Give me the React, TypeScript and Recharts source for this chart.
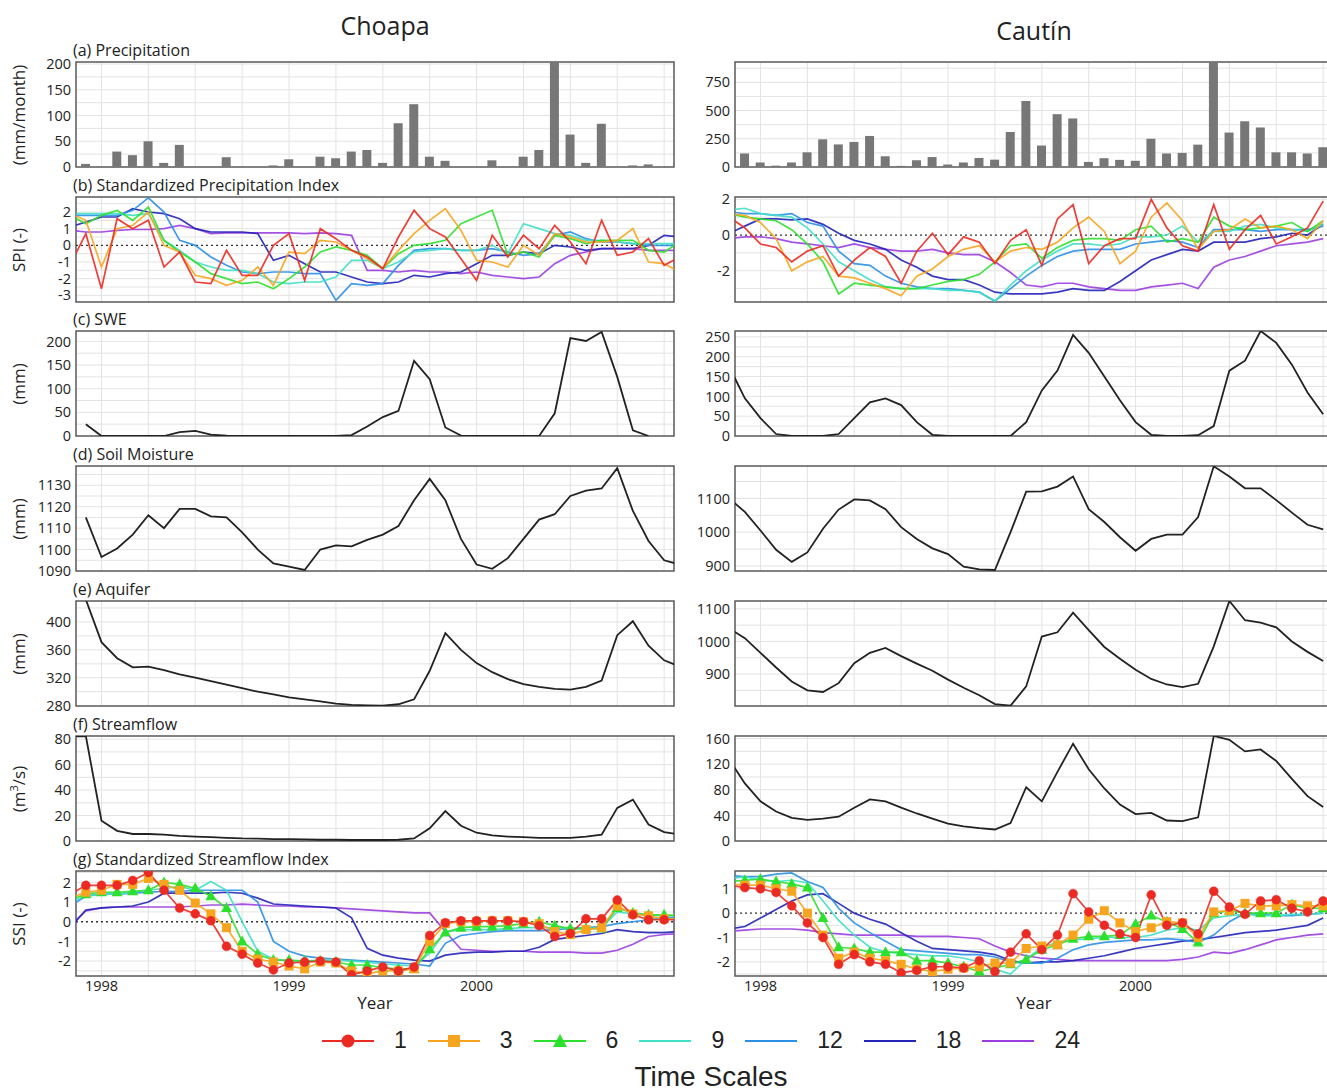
import React from "react";
import { ComposedChart, Bar, Line, XAxis, YAxis, CartesianGrid, ReferenceLine, ReferenceArea } from "recharts";

const FONT = '"Open Sans", "DejaVu Sans", sans-serif';

// month index, 0 = Jan 1998
const monthsChoapa = [-2, -1, 0, 1, 2, 3, 4, 5, 6, 7, 8, 9, 10, 11, 12, 13, 14, 15, 16, 17, 18, 19, 20, 21, 22, 23, 24, 25, 26, 27, 28, 29, 30, 31, 32, 33, 34, 35, 36, 37];
const monthsCautin = [-2, -1, 0, 1, 2, 3, 4, 5, 6, 7, 8, 9, 10, 11, 12, 13, 14, 15, 16, 17, 18, 19, 20, 21, 22, 23, 24, 25, 26, 27, 28, 29, 30, 31, 32, 33, 34, 35, 36];
const yearTicks = [0, 12, 24];
const yearLabels = ["1998", "1999", "2000"];

// ---- Choapa ----
const precipChoapa = [null, 6, 0, 30, 23, 50, 8, 43, 0, 0, 19, 0, 0, 3, 15, 0, 20, 17, 30, 33, 8, 85, 122, 20, 12, 0, 0, 13, 0, 20, 33, 204, 63, 8, 84, 0, 3, 5, 0, null];
const spi1Choapa = [-1.15, 0.7, -2.6, 1.6, 1.0, 1.5, -1.3, -0.4, -2.2, -2.3, -0.3, -1.8, -1.8, 0.0, 0.7, -2.1, 1.0, 0.4, -0.3, -0.7, -1.4, 0.5, 2.1, 1.0, 0.5, -0.8, -2.1, 0.6, -0.7, 0.6, -0.2, 1.2, 0.2, -1.1, 1.5, -0.6, -0.4, 0.4, -1.2, -0.7];
const spi3Choapa = [1.9, 1.5, -1.3, 1.0, 1.2, 2.0, 0.0, -0.4, -1.8, -2.0, -2.4, -2.1, -1.3, -2.4, -0.4, -0.5, 0.3, 0.2, -0.3, -0.8, -1.4, -0.3, 0.7, 1.5, 2.2, 0.9, -0.9, -1.0, -1.3, 0.0, -0.6, 0.7, 0.5, 0.2, 0.2, 0.3, 1.0, -1.0, -1.1, -1.6];
const spi6Choapa = [1.8, 1.3, 1.8, 2.1, 1.5, 2.3, 0.3, -0.4, -1.0, -1.7, -2.0, -2.3, -2.2, -2.6, -2.0, -1.3, -0.4, -0.1, -0.3, -0.6, -1.4, -0.5, 0.0, 0.1, 0.3, 1.3, 1.7, 2.1, -0.6, -0.4, -0.7, 0.6, 0.4, 0.1, 0.3, 0.3, 0.3, -0.3, -0.4, 0.2];
const spi9Choapa = [1.9, 1.9, 1.9, 1.9, 1.8, 1.9, 0.3, -0.3, -1.0, -1.3, -1.5, -1.5, -1.7, -2.2, -2.3, -2.2, -2.2, -1.9, -0.9, -0.9, -1.4, -1.0, -0.4, -0.3, -0.2, -0.3, -0.3, 0.0, -0.5, 1.3, 1.0, 0.7, 0.6, 0.3, 0.3, 0.2, 0.1, 0.1, 0.1, 0.1];
const spi12Choapa = [1.8, 1.8, 1.8, 1.8, 2.1, 2.85, 2.0, 0.3, 0.0, -0.7, -1.2, -1.6, -1.7, -1.6, -1.6, -1.7, -1.7, -3.3, -2.3, -2.4, -2.3, -1.2, -0.3, -0.2, -0.2, -0.3, -0.3, -0.2, -0.4, -0.6, -0.5, 0.6, 0.8, 0.4, 0.2, 0.2, 0.1, 0.0, 0.0, 0.0];
const spi18Choapa = [1.1, 1.4, 1.7, 1.7, 2.2, 2.0, 1.9, 1.6, 1.0, 0.8, 0.8, 0.8, 0.7, -0.9, -0.6, -1.1, -1.6, -1.6, -1.9, -2.2, -2.3, -2.2, -1.8, -1.9, -1.7, -1.6, -1.1, -0.6, -0.6, -0.4, -0.5, 0.0, -0.1, -0.3, -0.2, -0.2, -0.2, 0.0, 0.6, 0.5];
const spi24Choapa = [0.9, 0.8, 0.8, 0.9, 0.95, 0.95, 1.0, 1.2, 1.0, 0.7, 0.75, 0.75, 0.75, 0.75, 0.75, 0.7, 0.75, 0.7, 0.6, -1.5, -1.5, -1.6, -1.5, -1.6, -1.6, -1.7, -1.6, -1.8, -1.9, -2.0, -1.9, -1.1, -0.6, -0.4, -0.2, -0.2, -0.2, -0.3, -0.3, -0.3];
const sweChoapa = [null, 25, 0, 0, 0, 0, 0, 8, 11, 3, 0.5, 0, 0, 0, 0, 0, 0, 0, 2, 20, 40, 53, 159, 120, 18, 1, 0, 0, 0, 0, 0, 48, 207, 201, 220, 125, 12, 0, null, null];
const soilChoapa = [null, 1115, 1096.5, 1100.5, 1107, 1116, 1110, 1119, 1119, 1115.5, 1115, 1108, 1100, 1093.5, 1092, 1090.5, 1100, 1102, 1101.5, 1104.5, 1107, 1111, 1123, 1133, 1123, 1105, 1093, 1091, 1096, 1105, 1114, 1116.5, 1125, 1127.5, 1128.5, 1138, 1118, 1104, 1095, 1093];
const aquiferChoapa = [480, 432, 371, 348, 335, 336, 331, 325, 320, 315, 310, 305, 300, 296, 292, 289, 286, 283, 281, 280.5, 280, 282, 289, 330, 384, 360, 341, 328, 318, 311, 307, 304, 303, 307, 316, 381, 401, 366, 345, 336];
const flowChoapa = [82, 82.5, 16, 8, 5.5, 5.5, 5, 4, 3.5, 3, 2.5, 2, 1.8, 1.5, 1.5, 1.2, 1, 1, 0.8, 0.8, 0.8, 1, 2, 10, 23.5, 12, 6.5, 4.5, 3.5, 3, 2.5, 2.5, 2.5, 3.5, 5, 26, 32.5, 13, 7, 5];
const ssi1Choapa = [1.4, 1.85, 1.85, 1.85, 2.1, 2.5, 1.6, 0.7, 0.4, 0.05, -1.25, -1.65, -2.1, -2.45, -2.1, -2.05, -2.0, -2.05, -2.7, -2.5, -2.3, -2.5, -2.3, -0.7, -0.05, 0.05, 0.05, 0.05, 0.05, 0.0, -0.2, -0.75, -0.6, 0.15, 0.15, 1.1, 0.35, 0.1, 0.1, 0.1];
const ssi3Choapa = [1.2, 1.5, 1.6, 1.9, 1.9, 2.2, 1.9, 1.6, 0.95, 0.4, -0.3, -1.5, -1.9, -2.05, -2.25, -2.4, -2.05, -2.1, -2.5, -2.65, -2.5, -2.5, -2.4, -1.0, -0.1, 0.0, 0.0, 0.05, 0.05, 0.0, -0.1, -0.5, -0.65, -0.4, -0.3, 0.8, 0.4, 0.3, 0.15, 0.15];
const ssi6Choapa = [1.1, 1.4, 1.5, 1.5, 1.55, 1.6, 2.0, 1.9, 1.7, 1.3, 0.7, -1.0, -1.65, -1.95, -1.95, -2.0, -2.0, -2.05, -2.2, -2.2, -2.35, -2.4, -2.4, -1.4, -0.55, -0.3, -0.25, -0.25, -0.2, -0.1, 0.0, -0.2, -0.35, -0.35, -0.35, 0.7, 0.45, 0.35, 0.35, 0.3];
const ssi9Choapa = [1.0, 1.3, 1.4, 1.4, 1.5, 1.6, 1.7, 1.8, 1.6, 2.05, 1.6, 0.0, -1.5, -1.9, -2.0, -2.0, -1.95, -1.95, -2.0, -2.05, -2.15, -2.2, -2.25, -1.6, -0.5, -0.4, -0.4, -0.4, -0.35, -0.3, -0.3, -0.3, -0.35, -0.35, -0.3, 0.5, 0.4, 0.35, 0.3, 0.3];
const ssi12Choapa = [0.8, 1.3, 1.4, 1.4, 1.45, 1.5, 1.55, 1.55, 1.6, 1.6, 1.6, 1.6, 1.0, -1.0, -1.5, -1.75, -1.85, -1.9, -1.95, -2.0, -2.05, -2.1, -2.15, -2.25, -1.1, -0.7, -0.6, -0.5, -0.45, -0.45, -0.45, -0.4, -0.35, -0.3, -0.25, -0.1, 0.0, 0.1, 0.2, 0.2];
const ssi18Choapa = [-0.3, 0.6, 0.7, 0.75, 0.8, 1.0, 1.45, 1.45, 1.45, 1.45, 1.5, 1.45, 1.2, 0.9, 0.85, 0.8, 0.75, 0.7, 0.2, -1.35, -1.7, -1.85, -1.95, -2.0, -1.7, -1.6, -1.55, -1.55, -1.5, -1.5, -1.3, -0.9, -0.8, -0.7, -0.6, -0.4, -0.5, -0.55, -0.55, -0.5];
const ssi24Choapa = [-0.2, 0.55, 0.7, 0.75, 0.75, 0.75, 0.75, 0.75, 0.8, 0.85, 0.85, 0.9, 0.85, 0.8, 0.8, 0.75, 0.75, 0.7, 0.65, 0.6, 0.55, 0.5, 0.45, 0.45, -0.5, -1.4, -1.45, -1.5, -1.5, -1.5, -1.55, -1.55, -1.55, -1.6, -1.6, -1.45, -1.15, -0.75, -0.65, -0.6];

// ---- Cautín ----
const precipCautin = [null, 120, 40, 12, 40, 130, 245, 200, 222, 275, 95, 10, 60, 88, 22, 40, 80, 65, 310, 585, 190, 468, 430, 45, 78, 63, 55, 250, 120, 125, 198, 930, 305, 405, 350, 130, 130, 120, 175];
const spi1Cautin = [1.0, 0.4, -0.5, -0.7, -1.5, -0.9, -0.6, -2.3, -1.4, -0.7, -1.2, -2.7, -0.9, 0.1, -1.1, -0.1, -0.4, -1.6, -0.3, 0.3, -1.7, 0.9, 1.7, -1.6, -0.6, -0.2, -0.2, 2.0, 0.4, -0.6, -0.9, 1.7, -0.8, 0.3, 1.1, -0.5, -0.1, 0.4, 1.9];
const spi3Cautin = [1.2, 1.1, 0.7, -0.2, -2.0, -1.5, -1.2, -2.3, -2.4, -2.7, -3.0, -3.4, -2.3, -1.9, -1.2, -0.8, -0.6, -1.5, -0.9, -0.7, -0.8, -0.4, 0.4, 1.0, 0.2, -1.6, -0.9, 1.0, 1.8, 0.8, -0.8, 0.2, 0.3, 0.9, 0.4, 0.5, 0.3, -0.2, 0.8];
const spi6Cautin = [1.2, 1.0, 0.9, 0.8, 0.3, -0.5, -1.5, -3.3, -2.7, -2.8, -2.9, -3.0, -3.0, -2.8, -2.6, -2.5, -2.2, -1.5, -0.6, -0.5, -1.3, -0.7, -0.3, -0.2, -0.2, -0.3, 0.3, 0.5, -0.4, -0.2, -0.4, 1.0, 0.5, 0.3, 0.4, 0.5, 0.7, 0.2, 0.8];
const spi9Cautin = [1.4, 1.5, 1.2, 1.1, 1.0, 0.4, -0.5, -1.5, -2.0, -2.5, -2.9, -3.0, -3.0, -3.0, -3.1, -3.1, -3.2, -3.7, -2.8, -2.0, -1.4, -0.9, -0.5, -0.5, -0.6, -0.5, -0.1, -0.1, 0.0, 0.5, -0.4, 0.2, 0.2, 0.5, 0.6, 0.4, 0.3, 0.2, 0.6];
const spi12Cautin = [1.3, 1.2, 1.2, 1.1, 1.2, 0.7, 0.5, -0.9, -1.6, -1.7, -2.3, -2.7, -2.9, -3.0, -3.0, -3.1, -3.2, -3.7, -3.0, -2.3, -1.7, -1.2, -0.9, -0.8, -0.8, -0.8, -0.5, -0.4, -0.3, -0.4, -0.7, 0.3, 0.3, 0.3, 0.2, 0.3, 0.3, 0.3, 0.5];
const spi18Cautin = [0.1, 0.5, 0.9, 0.9, 0.85, 0.9, 0.6, 0.1, -0.3, -0.5, -0.8, -1.4, -1.8, -2.3, -2.5, -2.5, -2.8, -3.2, -3.3, -3.3, -3.3, -3.2, -3.0, -3.1, -3.1, -2.6, -2.0, -1.4, -1.1, -0.8, -0.9, -0.4, -0.4, -0.4, -0.2, -0.1, 0.1, 0.0, 0.6];
const spi24Cautin = [-0.2, -0.1, -0.1, -0.2, -0.4, -0.5, -0.6, -0.7, -0.5, -0.7, -0.8, -0.9, -0.9, -0.8, -1.0, -1.1, -1.1, -1.5, -2.1, -2.8, -2.9, -2.7, -2.7, -2.9, -3.0, -3.1, -3.1, -2.9, -2.8, -2.7, -3.0, -1.8, -1.4, -1.2, -0.9, -0.6, -0.5, -0.4, -0.2];
const sweCautin = [175, 95, 45, 5, 0, 0, 0, 5, 45, 85, 95, 78, 35, 3, 0, 0, 0, 0, 0, 35, 115, 165, 255, 210, 150, 90, 35, 3, 0, 0, 2, 25, 165, 190, 265, 235, 180, 110, 55];
const soilCautin = [1100, 1060, 1005, 948, 912, 940, 1010, 1067, 1097, 1094, 1068, 1015, 980, 952, 935, 898, 890, 888, 1000, 1120, 1121, 1135, 1165, 1068, 1030, 985, 945, 980, 993, 993, 1045, 1195, 1165, 1130, 1130, 1095, 1058, 1022, 1008];
const aquiferCautin = [1040, 1010, 965, 920, 877, 850, 845, 872, 933, 965, 980, 955, 932, 910, 883, 858, 835, 808, 803, 862, 1015, 1028, 1088, 1035, 983, 947, 913, 885, 868, 860, 870, 985, 1124, 1065, 1058, 1043, 1000, 968, 940];
const flowCautin = [127, 90, 62, 46, 36, 33, 35, 38, 52, 65, 62, 52, 43, 35, 27, 23, 20, 18, 28, 84, 62, 108, 152, 112, 82, 57, 42, 44, 32, 31, 37, 164, 158, 140, 143, 125, 97, 70, 53];
const ssi1Cautin = [1.15, 1.05, 1.0, 0.85, 0.3, -0.4, -1.0, -2.1, -1.7, -2.0, -2.1, -2.45, -2.35, -2.2, -2.2, -2.25, -1.95, -2.4, -1.6, -0.85, -1.5, -0.9, 0.8, 0.05, -0.5, -0.85, -1.0, 0.75, -0.5, -0.4, -0.85, 0.9, 0.25, -0.05, 0.5, 0.55, 0.2, 0.05, 0.5];
const ssi3Cautin = [1.2, 1.15, 1.15, 1.0, 0.9, 0.0, -0.9, -1.85, -1.6, -1.85, -1.95, -2.1, -2.3, -2.4, -2.3, -2.25, -2.2, -2.05, -2.05, -1.45, -1.35, -1.3, -0.9, -0.25, 0.1, -0.4, -0.75, -0.6, -0.35, -0.4, -1.0, 0.05, 0.1, 0.4, 0.3, 0.3, 0.35, 0.3, 0.3];
const ssi6Cautin = [1.3, 1.35, 1.4, 1.3, 1.2, 1.05, -0.2, -1.4, -1.45, -1.6, -1.6, -1.6, -1.95, -1.95, -2.05, -2.2, -2.4, -2.25, -2.1, -1.9, -1.5, -1.3, -1.05, -0.95, -0.95, -0.9, -0.45, -0.1, -0.35, -0.65, -1.2, 0.0, 0.1, 0.0, 0.0, 0.0, 0.35, 0.2, 0.2];
const ssi9Cautin = [1.4, 1.5, 1.35, 1.3, 1.35, 1.25, 0.5, -0.3, -0.9, -1.4, -1.6, -1.65, -1.7, -1.75, -1.75, -1.85, -2.0, -2.3, -2.5, -1.9, -1.4, -1.2, -1.1, -1.05, -1.0, -1.0, -1.0, -0.9, -0.7, -0.6, -0.7, -0.2, -0.1, -0.05, -0.1, -0.1, -0.05, -0.05, 0.0];
const ssi12Cautin = [1.55, 1.5, 1.5, 1.6, 1.65, 1.3, 1.05, 0.2, -0.4, -0.8, -1.15, -1.5, -1.55, -1.6, -1.65, -1.7, -1.7, -1.8, -2.0, -2.05, -2.05, -1.85, -1.5, -1.3, -1.2, -1.15, -1.1, -1.1, -1.05, -1.1, -1.2, -0.9, -0.35, 0.0, -0.05, -0.1, -0.1, -0.05, 0.0];
const ssi18Cautin = [-0.65, -0.55, -0.2, 0.15, 0.5, 0.75, 0.8, 0.4, 0.0, -0.25, -0.45, -0.8, -1.15, -1.45, -1.5, -1.55, -1.6, -1.7, -1.95, -2.05, -2.0, -2.0, -1.95, -1.85, -1.75, -1.6, -1.45, -1.35, -1.25, -1.15, -1.1, -1.0, -0.9, -0.8, -0.75, -0.7, -0.6, -0.5, -0.2];
const ssi24Cautin = [-0.75, -0.7, -0.65, -0.65, -0.65, -0.7, -0.8, -0.85, -0.9, -0.9, -0.9, -0.9, -0.95, -0.95, -0.95, -1.0, -1.05, -1.35, -1.6, -1.75, -1.85, -1.9, -1.95, -1.95, -1.95, -1.95, -1.95, -1.95, -1.95, -1.9, -1.8, -1.6, -1.65, -1.5, -1.3, -1.1, -1.0, -0.9, -0.85];

// drawing order: 24 first, 1 on top
const SCALES = [
  { key: "s24", label: "24", color: "#9b3ee0", marker: "none" },
  { key: "s18", label: "18", color: "#2424b8", marker: "none" },
  { key: "s12", label: "12", color: "#2b8fe6", marker: "none" },
  { key: "s9", label: "9", color: "#40e0c6", marker: "none" },
  { key: "s6", label: "6", color: "#2ee02e", marker: "triangle" },
  { key: "s3", label: "3", color: "#f7a51e", marker: "square" },
  { key: "s1", label: "1", color: "#ec2a24", marker: "circle" },
];

const spiChoapa = { s1: spi1Choapa, s3: spi3Choapa, s6: spi6Choapa, s9: spi9Choapa, s12: spi12Choapa, s18: spi18Choapa, s24: spi24Choapa };
const ssiChoapa = { s1: ssi1Choapa, s3: ssi3Choapa, s6: ssi6Choapa, s9: ssi9Choapa, s12: ssi12Choapa, s18: ssi18Choapa, s24: ssi24Choapa };
const spiCautin = { s1: spi1Cautin, s3: spi3Cautin, s6: spi6Cautin, s9: spi9Cautin, s12: spi12Cautin, s18: spi18Cautin, s24: spi24Cautin };
const ssiCautin = { s1: ssi1Cautin, s3: ssi3Cautin, s6: ssi6Cautin, s9: ssi9Cautin, s12: ssi12Cautin, s18: ssi18Cautin, s24: ssi24Cautin };

const X_DOMAIN: [number, number] = [-1.63, 36.63];
const V_GRID = [0, 3, 6, 9, 12, 15, 18, 21, 24, 27, 30, 33, 36];
const PLOT_W = 598;
const PLOT_H = 105;
const Y_W = 60;
const PAD = 8;
const TOPS = [62, 197, 331, 466, 601, 736, 871];
const tickStyle = { fontSize: 14.5, fill: "#222", fontFamily: FONT };

function markerFor(kind: string, color: string) {
  if (kind === "circle") return { r: 4.5, fill: color, stroke: color, strokeWidth: 0.5 };
  if (kind === "square")
    return (p: any) => (p.cx == null ? <g key={p.index} /> : <rect key={p.index} x={p.cx - 4.5} y={p.cy - 4.5} width={9} height={9} fill={color} />);
  if (kind === "triangle")
    return (p: any) =>
      p.cx == null ? <g key={p.index} /> : <polygon key={p.index} points={`${p.cx},${p.cy - 6} ${p.cx - 5.5},${p.cy + 4} ${p.cx + 5.5},${p.cy + 4}`} fill={color} />;
  return false;
}

type PanelProps = {
  left: number;
  top: number;
  months: number[];
  bars?: (number | null)[];
  line?: (number | null)[];
  index?: Record<string, number[]>;
  markers?: boolean;
  domain: [number, number];
  ticks: number[];
  grid: number[];
  showX?: boolean;
};

function Panel({ left, top, months, bars, line, index, markers, domain, ticks, grid, showX }: PanelProps) {
  const rows = months.map((m, i) => {
    const r: any = { m };
    if (bars) r.bar = bars[i];
    if (line) r.val = line[i];
    if (index) SCALES.forEach((s) => (r[s.key] = index[s.key][i]));
    return r;
  });
  const h = PAD + PLOT_H + (showX ? 34 : PAD);
  return (
    <div style={{ position: "absolute", left: left - Y_W, top: top - PAD }}>
      <ComposedChart width={Y_W + PLOT_W + 4} height={h} data={rows} margin={{ top: PAD, right: 4, bottom: showX ? 0 : PAD, left: 0 }}>
        <CartesianGrid verticalValues={V_GRID} horizontalValues={grid} stroke="#e3e3e3" strokeWidth={1} />
        <XAxis
          dataKey="m"
          type="number"
          domain={X_DOMAIN}
          allowDataOverflow
          hide={!showX}
          ticks={yearTicks}
          interval={0}
          tickFormatter={(v) => yearLabels[yearTicks.indexOf(v)]}
          axisLine={false}
          tickLine={false}
          tickSize={0}
          tickMargin={5}
          height={34}
          tick={tickStyle}
        />
        <YAxis
          type="number"
          domain={domain}
          allowDataOverflow
          ticks={ticks}
          interval={0}
          width={Y_W}
          axisLine={false}
          tickLine={false}
          tickSize={0}
          tickMargin={5}
          tick={tickStyle}
        />
        {index && <ReferenceLine y={0} stroke="#333" strokeDasharray="2 3" strokeWidth={1.3} />}
        {bars && <Bar dataKey="bar" fill="#777777" barSize={9} isAnimationActive={false} />}
        {line && <Line dataKey="val" stroke="#222" strokeWidth={1.8} dot={false} isAnimationActive={false} />}
        {index &&
          SCALES.map((s) => (
            <Line
              key={s.key}
              dataKey={s.key}
              stroke={s.color}
              strokeOpacity={0.9}
              strokeWidth={1.7}
              dot={markers ? (markerFor(s.marker, s.color) as any) : false}
              isAnimationActive={false}
            />
          ))}
        <ReferenceArea x1={X_DOMAIN[0]} x2={X_DOMAIN[1]} y1={domain[0]} y2={domain[1]} fill="none" stroke="#5a5a5a" strokeWidth={1.5} ifOverflow="visible" />
      </ComposedChart>
    </div>
  );
}

const choapaPanels = [
  { title: "(a) Precipitation", yLabel: <>(mm/month)</>, bars: precipChoapa, domain: [0, 204], ticks: [0, 50, 100, 150, 200], grid: [25, 50, 75, 100, 125, 150, 175, 200] },
  { title: "(b) Standardized Precipitation Index", yLabel: <>SPI (-)</>, index: spiChoapa, domain: [-3.4, 2.9], ticks: [-3, -2, -1, 0, 1, 2], grid: [-3, -2.5, -2, -1.5, -1, -0.5, 0.5, 1, 1.5, 2, 2.5] },
  { title: "(c) SWE", yLabel: <>(mm)</>, line: sweChoapa, domain: [0, 222], ticks: [0, 50, 100, 150, 200], grid: [25, 50, 75, 100, 125, 150, 175, 200] },
  { title: "(d) Soil Moisture", yLabel: <>(mm)</>, line: soilChoapa, domain: [1090, 1139], ticks: [1090, 1100, 1110, 1120, 1130], grid: [1095, 1100, 1105, 1110, 1115, 1120, 1125, 1130, 1135] },
  { title: "(e) Aquifer", yLabel: <>(mm)</>, line: aquiferChoapa, domain: [279.5, 430], ticks: [280, 320, 360, 400], grid: [300, 320, 340, 360, 380, 400, 420] },
  { title: "(f) Streamflow", yLabel: <>(m<sup style={{ fontSize: 11 }}>3</sup>/s)</>, line: flowChoapa, domain: [0, 82.5], ticks: [0, 20, 40, 60, 80], grid: [10, 20, 30, 40, 50, 60, 70, 80] },
  { title: "(g) Standardized Streamflow Index", yLabel: <>SSI (-)</>, index: ssiChoapa, markers: true, domain: [-2.76, 2.58], ticks: [-2, -1, 0, 1, 2], grid: [-2.5, -2, -1.5, -1, -0.5, 0.5, 1, 1.5, 2, 2.5] },
];

const cautinPanels = [
  { bars: precipCautin, domain: [0, 930], ticks: [0, 250, 500, 750], grid: [125, 250, 375, 500, 625, 750, 875] },
  { index: spiCautin, domain: [-3.75, 2.13], ticks: [-2, 0, 2], grid: [-3, -2, -1, 1, 2] },
  { line: sweCautin, domain: [0, 265], ticks: [0, 50, 100, 150, 200, 250], grid: [25, 50, 75, 100, 125, 150, 175, 200, 225, 250] },
  { line: soilCautin, domain: [885, 1196], ticks: [900, 1000, 1100], grid: [900, 950, 1000, 1050, 1100, 1150] },
  { line: aquiferCautin, domain: [802, 1124], ticks: [900, 1000, 1100], grid: [850, 900, 950, 1000, 1050, 1100] },
  { line: flowCautin, domain: [0, 164], ticks: [0, 40, 80, 120, 160], grid: [20, 40, 60, 80, 100, 120, 140, 160] },
  { index: ssiCautin, markers: true, domain: [-2.58, 1.73], ticks: [-2, -1, 0, 1], grid: [-2.5, -2, -1.5, -1, -0.5, 0.5, 1, 1.5] },
];

function LegendIcon({ color, marker }: { color: string; marker: string }) {
  return (
    <svg width={52} height={20} style={{ display: "block" }}>
      <line x1={0} y1={10} x2={52} y2={10} stroke={color} strokeWidth={2} />
      {marker === "circle" && <circle cx={26} cy={10} r={6.5} fill={color} />}
      {marker === "square" && <rect x={20} y={4} width={12} height={12} fill={color} />}
      {marker === "triangle" && <polygon points="26,3 19,16 33,16" fill={color} />}
    </svg>
  );
}

export default function App() {
  const abs = (l: number, t: number, extra: React.CSSProperties = {}): React.CSSProperties => ({ position: "absolute", left: l, top: t, whiteSpace: "nowrap", ...extra });
  return (
    <div style={{ position: "absolute", left: 0, top: 0, width: 1327, height: 1091, overflow: "hidden", background: "#fff", fontFamily: FONT, color: "#222" }}>
      <div style={abs(385, 25, { transform: "translate(-50%,-50%)", fontSize: 25 })}>Choapa</div>
      <div style={abs(1034, 30, { transform: "translate(-50%,-50%)", fontSize: 25 })}>Cautín</div>

      {choapaPanels.map((p, i) => (
        <React.Fragment key={"c" + i}>
          <div style={abs(73, TOPS[i] - 22, { fontSize: 16, lineHeight: "20px" })}>{p.title}</div>
          <div style={abs(18, TOPS[i] + PLOT_H / 2, { transform: "translate(-50%,-50%) rotate(-90deg)", fontSize: 17 })}>{p.yLabel}</div>
          <Panel
            left={75.5}
            top={TOPS[i]}
            months={monthsChoapa}
            bars={p.bars}
            line={p.line}
            index={p.index}
            markers={p.markers}
            domain={p.domain as [number, number]}
            ticks={p.ticks}
            grid={p.grid}
            showX={i === 6}
          />
        </React.Fragment>
      ))}

      {cautinPanels.map((p, i) => (
        <Panel
          key={"k" + i}
          left={734.5}
          top={TOPS[i]}
          months={monthsCautin}
          bars={p.bars}
          line={p.line}
          index={p.index}
          markers={p.markers}
          domain={p.domain as [number, number]}
          ticks={p.ticks}
          grid={p.grid}
          showX={i === 6}
        />
      ))}

      <div style={abs(375, 1002, { transform: "translate(-50%,-50%)", fontSize: 17 })}>Year</div>
      <div style={abs(1034, 1002, { transform: "translate(-50%,-50%)", fontSize: 17 })}>Year</div>

      <div style={abs(322, 1027, { display: "flex", alignItems: "center", fontFamily: '"Liberation Sans", Arial, sans-serif', fontSize: 23 })}>
        {[...SCALES].reverse().map((s) => (
          <div key={s.key} style={{ display: "flex", alignItems: "center", marginRight: 21 }}>
            <LegendIcon color={s.color} marker={s.marker} />
            <span style={{ marginLeft: 20 }}>{s.label}</span>
          </div>
        ))}
      </div>
      <div style={abs(711, 1077, { transform: "translate(-50%,-50%)", fontFamily: '"Liberation Sans", Arial, sans-serif', fontSize: 28 })}>Time Scales</div>
    </div>
  );
}
